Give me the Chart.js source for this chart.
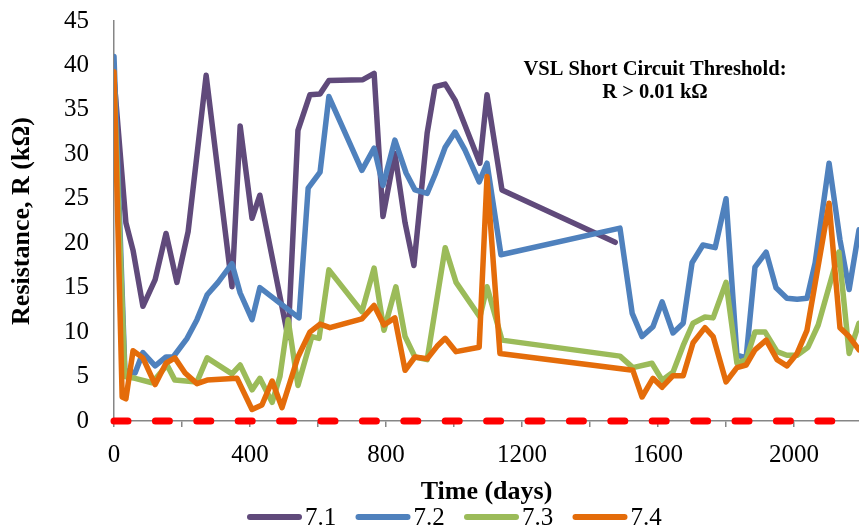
<!DOCTYPE html>
<html>
<head>
<meta charset="utf-8">
<script src="https://cdn.jsdelivr.net/npm/chart.js@4.4.0/dist/chart.umd.min.js"></script>
<style>
  html, body { margin: 0; padding: 0; background: #fff; }
  #wrap { width: 859px; height: 531px; }
</style>
</head>
<body>
<div id="wrap"><canvas id="chart" width="859" height="531"></canvas></div>
<script>
// resistance readings per specimen (days, kOhm)
const days71 = [0, 35, 56, 85, 121, 153, 185, 218, 271, 347, 371, 406, 429, 512, 541, 576, 606, 632, 732, 765, 791, 826, 856, 882, 921, 944, 974, 1003, 1076, 1097, 1141, 1474];
const r71 = [38.6, 22.3, 19.2, 12.9, 15.9, 21.1, 15.6, 21.3, 38.9, 15.1, 33.2, 22.8, 25.4, 9.4, 32.7, 36.7, 36.8, 38.3, 38.4, 39.1, 23, 30.1, 22.3, 17.5, 32.4, 37.6, 37.9, 36.1, 29, 36.7, 26, 20.1];

const days72 = [0, 32, 62, 85, 121, 153, 174, 215, 244, 274, 306, 347, 371, 406, 429, 544, 571, 606, 632, 729, 765, 791, 826, 859, 885, 921, 944, 974, 1003, 1032, 1074, 1097, 1138, 1488, 1524, 1553, 1585, 1612, 1644, 1674, 1700, 1732, 1768, 1800, 1832, 1859, 1885, 1918, 1947, 1979, 2009, 2038, 2062, 2103, 2135, 2162, 2191];
const r72 = [41, 5.7, 5.4, 7.7, 6.2, 7.2, 7.2, 9.3, 11.4, 14.2, 15.6, 17.7, 14.4, 11.4, 15, 11.6, 26.2, 28, 36.5, 28.2, 30.7, 26.5, 31.6, 27.9, 26, 25.6, 27.7, 30.8, 32.5, 30.5, 26.9, 29, 18.7, 21.7, 12.1, 9.5, 10.6, 13.4, 9.9, 11, 17.8, 19.8, 19.5, 25, 7.4, 7.1, 17.3, 19, 15, 13.8, 13.7, 13.8, 17.8, 29, 20.4, 14.8, 21.5];

const days73 = [0, 32, 62, 112, 156, 179, 244, 274, 347, 371, 406, 429, 465, 488, 512, 541, 582, 603, 632, 729, 765, 794, 829, 856, 885, 921, 974, 1006, 1076, 1097, 1141, 1488, 1526, 1582, 1612, 1644, 1674, 1703, 1738, 1762, 1800, 1832, 1859, 1885, 1915, 1950, 1979, 2009, 2041, 2071, 2132, 2162, 2191];
const r73 = [38, 5, 4.8, 4.3, 6.3, 4.6, 4.4, 7.1, 5.3, 6.3, 3.5, 4.8, 2.1, 5, 11.4, 4, 9.5, 9.3, 17, 12.3, 17.2, 10.2, 15.1, 9.5, 7.2, 6.9, 19.5, 15.6, 11.7, 15.1, 9.1, 7.3, 6, 6.5, 4.6, 5.5, 8.5, 11, 11.7, 11.6, 15.6, 6.5, 6.9, 10, 10, 7.8, 7.4, 7.4, 8.3, 10.8, 19, 7.6, 11];

const days74 = [0, 24, 35, 56, 85, 121, 153, 179, 209, 244, 274, 362, 406, 435, 465, 494, 541, 576, 606, 635, 729, 765, 794, 826, 856, 885, 921, 950, 974, 1006, 1074, 1097, 1135, 1526, 1553, 1585, 1612, 1644, 1674, 1703, 1738, 1762, 1800, 1832, 1859, 1885, 1918, 1950, 1979, 2009, 2038, 2103, 2135, 2162, 2191];
const r74 = [39.3, 2.7, 2.5, 7.9, 7.1, 4.1, 6.5, 7.1, 5.4, 4.2, 4.6, 4.8, 1.3, 1.8, 4.5, 1.5, 7.2, 10, 10.9, 10.5, 11.5, 13, 10.8, 11.6, 5.7, 7.2, 7, 8.4, 9.3, 7.8, 8.3, 27.5, 7.6, 5.7, 2.7, 4.8, 3.8, 5.1, 5.1, 8.8, 10.5, 9.5, 4.4, 6, 6.3, 8, 9.1, 6.9, 6.2, 7.6, 10.2, 24.5, 10.5, 9.5, 8];

// short circuit threshold, R > 0.01 kOhm
const thrDays = [0, 2191];
const thrR = [0.01, 0.01];

const seriesNames = ["7.1", "7.2", "7.3", "7.4"];
const seriesColors = ["#604A7B", "#4F81BD", "#9BBB59", "#E46C0A"];
const xTicks = [0, 400, 800, 1200, 1600, 2000];

const pts = (xs, ys) => xs.map((x, i) => ({ x: x, y: ys[i] }));

const serif = "'Liberation Serif', 'Times New Roman', serif";
const axisGray = "#868686";

const lineSet = (i, xs, ys) => ({
    label: seriesNames[i],
    data: pts(xs, ys),
    borderColor: seriesColors[i],
    backgroundColor: seriesColors[i],
    borderWidth: 5.5,
    borderJoinStyle: "round",
    borderCapStyle: "round",
    pointRadius: 0,
    tension: 0,
    order: 4 - i,
});

// annotation text + legend under the axis title
const overlay = {
    id: "overlay",
    afterDraw(chart) {
        const ctx = chart.ctx;
        ctx.save();
        ctx.fillStyle = "#000";
        ctx.textAlign = "center";
        ctx.textBaseline = "alphabetic";
        ctx.font = "bold 20.5px " + serif;
        ctx.fillText("VSL Short Circuit Threshold:", 655, 75);
        ctx.fillText("R > 0.01 k\u03A9", 655, 98);

        ctx.font = "25px " + serif;
        ctx.textAlign = "left";
        ctx.textBaseline = "middle";
        ctx.lineCap = "round";
        ctx.lineWidth = 6;
        let x = 250;
        const y = 517;
        seriesNames.forEach((name, i) => {
            ctx.strokeStyle = seriesColors[i];
            ctx.beginPath();
            ctx.moveTo(x, y);
            ctx.lineTo(x + 49, y);
            ctx.stroke();
            ctx.fillText(name, x + 55, y + 1);
            x += 108.5;
        });
        ctx.restore();
    },
};

new Chart(document.getElementById("chart"), {
    type: "line",
    data: {
        datasets: [
            lineSet(0, days71, r71),
            lineSet(1, days72, r72),
            lineSet(2, days73, r73),
            lineSet(3, days74, r74),
            {
                label: "threshold",
                data: pts(thrDays, thrR),
                borderColor: "#FF0000",
                borderWidth: 7,
                borderDash: [14, 27.4],
                borderCapStyle: "round",
                pointRadius: 0,
                order: 0,
                clip: 5,
            },
        ],
    },
    plugins: [overlay],
    options: {
        responsive: false,
        devicePixelRatio: 1,
        animation: false,
        layout: { padding: { top: 21, right: 0, left: 0, bottom: 0 } },
        plugins: {
            legend: { display: false },
            tooltip: { enabled: false },
        },
        scales: {
            x: {
                type: "linear",
                min: 0,
                max: 2191,
                afterFit: (s) => { s.height = 110; },
                afterBuildTicks: (s) => {
                    s.ticks = [];
                    for (let v = 0; v <= 2000; v += 200) s.ticks.push({ value: v });
                },
                ticks: {
                    autoSkip: false,
                    maxRotation: 0,
                    padding: 13,
                    color: "#000",
                    font: { family: serif, size: 25 },
                    callback: (v) => (xTicks.includes(v) ? String(v) : ""),
                },
                grid: {
                    display: true,
                    drawOnChartArea: false,
                    drawTicks: true,
                    tickLength: 6,
                    color: axisGray,
                    lineWidth: 1.5,
                },
                border: { color: axisGray, width: 1.5 },
                title: {
                    display: true,
                    text: "Time (days)",
                    color: "#000",
                    font: { family: serif, size: 26, weight: "bold" },
                    padding: { top: 0, bottom: 23 },
                },
            },
            y: {
                min: 0,
                max: 45,
                afterFit: (s) => { s.width = 114; },
                ticks: {
                    stepSize: 5,
                    padding: 0,
                    color: "#000",
                    font: { family: serif, size: 25 },
                },
                // invisible tick marks keep the labels clear of the axis
                grid: {
                    display: true,
                    drawOnChartArea: false,
                    drawTicks: true,
                    tickLength: 25,
                    tickColor: "rgba(0,0,0,0)",
                },
                border: { color: axisGray, width: 1.5 },
                title: {
                    display: true,
                    text: "Resistance, R (k\u03A9)",
                    color: "#000",
                    font: { family: serif, size: 26, weight: "bold" },
                    padding: { top: 7, bottom: 0 },
                },
            },
        },
    },
});
</script>
</body>
</html>
